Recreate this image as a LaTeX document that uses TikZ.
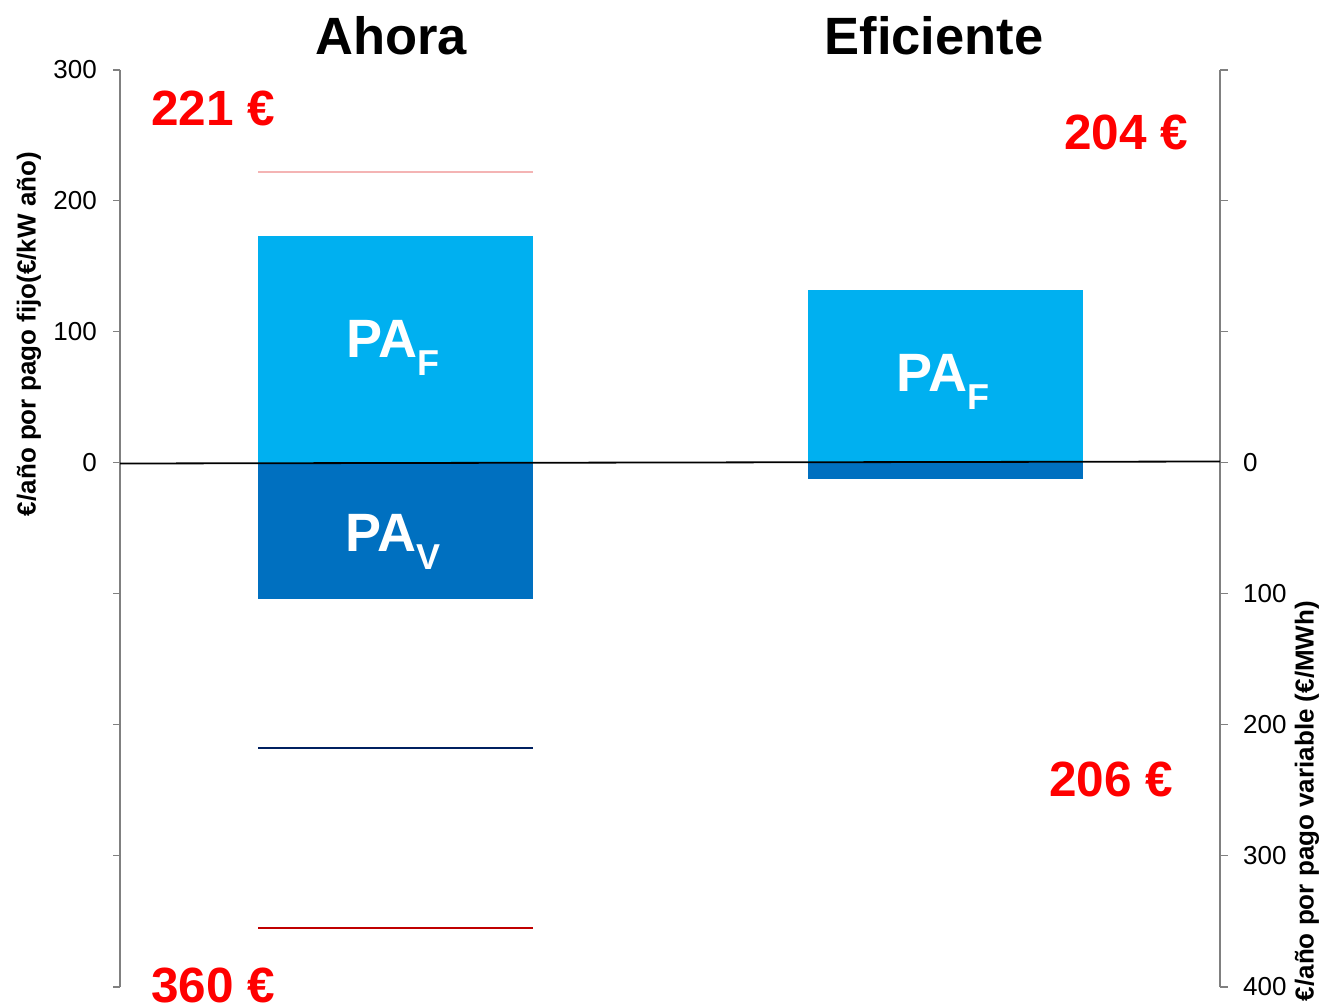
\documentclass[tikz,border=0pt]{standalone}
\usepackage{fontspec}
\setmainfont{Liberation Sans}
\definecolor{lightblue}{HTML}{00B0F0}
\definecolor{darkblue}{HTML}{0070C0}
\definecolor{navy}{HTML}{002060}
\definecolor{darkred}{HTML}{C00000}
\definecolor{pinkline}{HTML}{F4B4B4}
\definecolor{axisgray}{HTML}{808080}
\definecolor{valred}{HTML}{FF0000}
\newcommand{\fs}[1]{\fontsize{#1}{#1}\selectfont}
\newcommand{\pasub}[1]{\fs{54}\bfseries PA\raisebox{-0.32em}{\fs{36}#1}}
\tikzset{
  axisline/.style={draw=axisgray, line width=1.3pt},
  ticklabel/.style={font=\fs{26}, inner sep=0pt},
  title/.style={font=\fs{52.5}\bfseries, inner sep=0pt},
  valuelabel/.style={font=\fs{49.5}\bfseries, text=valred, inner sep=0pt},
  axistitle/.style={font=\fs{26}\bfseries, inner sep=0pt, rotate=90},
  bar/.style={inner sep=0pt, outer sep=0pt, anchor=north west},
  palabel/.style={text=white, inner sep=0pt},
}
\begin{document}
\begin{tikzpicture}[x=1pt,y=-1pt]
\clip (0,0) rectangle (1325,1008);
\fill[white] (0,0) rectangle (1325,1008);

% bars
\node[bar, fill=lightblue, minimum width=275pt, minimum height=227pt] (ahF) at (258,236) {};
\node[bar, fill=darkblue, minimum width=275pt, minimum height=136pt] (ahV) at (258,463) {};
\node[bar, fill=lightblue, minimum width=275pt, minimum height=172pt] (efF) at (808,290) {};
\node[bar, fill=darkblue, minimum width=275pt, minimum height=17pt] (efV) at (808,462) {};

\node[palabel] (lahF) at (393,348) {\pasub{F}};
\node[palabel] (lahV) at (393,542) {\pasub{V}};
\node[palabel] (lefF) at (943,382) {\pasub{F}};

% reference lines
\coordinate (p1) at (258,172); \coordinate (p2) at (533,172);
\coordinate (n1) at (258,748); \coordinate (n2) at (533,748);
\coordinate (r1) at (258,928); \coordinate (r2) at (533,928);
\draw[pinkline, line width=1.2pt] (p1) -- (p2);
\draw[navy, line width=1.6pt] (n1) -- (n2);
\draw[darkred, line width=1.6pt] (r1) -- (r2);

% left axis
\coordinate (la0) at (120,70); \coordinate (la1) at (120,987);
\draw[axisline] (la0) -- (la1);
\foreach \y in {70,200.5,331.5,462.5,593.5,724.5,855.5,987} {
  \draw[axisline] (113,\y) -- (120,\y);
}
\node[ticklabel, anchor=east] (l300) at (97,70) {300};
\node[ticklabel, anchor=east] (l200) at (97,200.5) {200};
\node[ticklabel, anchor=east] (l100) at (97,331.5) {100};
\node[ticklabel, anchor=east] (l0) at (97,462.5) {0};

% right axis
\coordinate (ra0) at (1220,70); \coordinate (ra1) at (1220,987);
\draw[axisline] (ra0) -- (ra1);
\foreach \y in {70,200.5,331.5,462.5,593.5,724.5,855.5,987} {
  \draw[axisline] (1220,\y) -- (1228,\y);
}
\node[ticklabel, anchor=west] (r0) at (1243,462.5) {0};
\node[ticklabel, anchor=west] (r100) at (1243,593.5) {100};
\node[ticklabel, anchor=west] (r200) at (1243,724.5) {200};
\node[ticklabel, anchor=west] (r300) at (1243,855.5) {300};
\node[ticklabel, anchor=west] (r400) at (1243,987) {400};

% zero line
\coordinate (z0) at (120,463.5);
\coordinate (z1) at (1220,461.5);
\draw[black, line width=1.8pt] (z0) -- (z1);

% axis titles
\node[axistitle] (ltitle) at (29,334) {€/año por pago fijo(€/kW año)};
\node[axistitle] (rtitle) at (1307,801) {€/año por pago variable (€/MWh)};

% titles
\node[title] (tah) at (391,36) {Ahora};
\node[title] (tef) at (934,36) {Eficiente};

% value labels
\node[valuelabel] (v221) at (213,108) {221 €};
\node[valuelabel] (v204) at (1126,132) {204 €};
\node[valuelabel] (v206) at (1111,779) {206 €};
\node[valuelabel] (v360) at (213,985) {360 €};
\end{tikzpicture}
\end{document}
